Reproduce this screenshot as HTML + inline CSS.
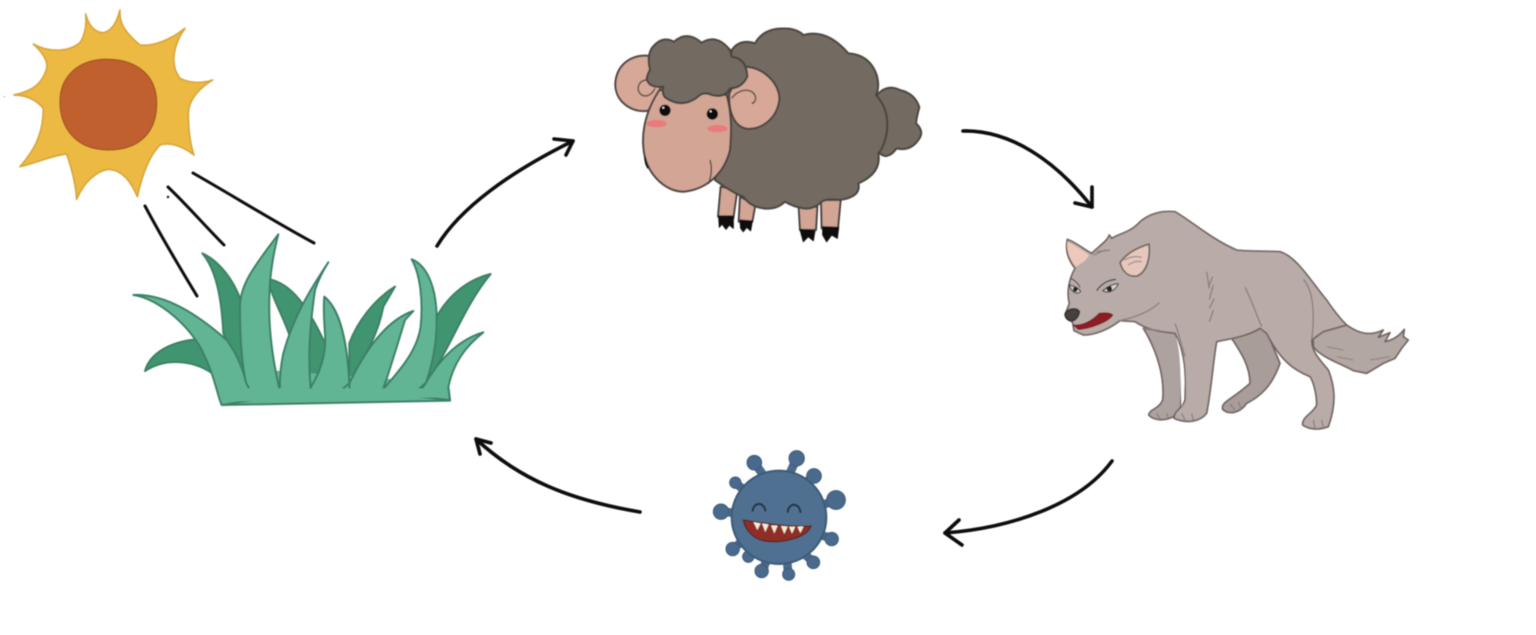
<!DOCTYPE html>
<html><head><meta charset="utf-8"><style>
html,body{margin:0;padding:0;background:#fff;width:1536px;height:635px;overflow:hidden}
svg{display:block}
</style></head><body>
<svg width="1536" height="635" viewBox="0 0 1536 635" xmlns="http://www.w3.org/2000/svg">
<defs><filter id="s" x="0" y="0" width="1536" height="635" filterUnits="userSpaceOnUse"><feGaussianBlur stdDeviation="0.55"/></filter></defs>
<rect width="1536" height="635" fill="#fff"/>
<g filter="url(#s)">

<!-- Sun (zoom coords) -->
<g transform="scale(.33333)">
<path d="M360,30 C358,60 365,90 420,135 C460,140 510,120 555,85 C525,125 505,190 540,235 C570,250 605,250 638,240 C600,262 565,300 565,340 C565,385 570,430 582,465 C550,440 510,425 480,435 C445,470 425,530 412,590 C395,550 370,510 325,508 C285,515 250,550 230,598 C228,560 220,520 200,462 C160,465 105,490 60,500 C95,460 130,410 130,325 C105,295 75,285 42,285 C85,275 125,260 140,205 C145,180 125,155 100,132 C140,155 200,160 240,128 C255,105 260,75 257,42 C265,75 285,100 312,98 C340,90 352,60 360,30 Z" fill="#ecb942" stroke="#d8a63e" stroke-width="5" stroke-linejoin="round"/>
<path d="M180,305 C180,230 235,178 320,178 C410,178 470,225 470,310 C470,395 420,450 325,450 C230,450 180,385 180,305 Z" fill="#bf612d" stroke="#a65526" stroke-width="4"/>
<path d="M10,290 h6" stroke="#999" stroke-width="2"/>
</g>

<!-- Rays -->
<g stroke="#111" stroke-width="3" stroke-linecap="round" fill="none">
<path d="M193,173 C235,197 275,222 314,243"/>
<path d="M168,187 C187,205 206,227 224,245"/>
<path d="M145,206 C161,236 180,268 197,296"/>
</g>
<circle cx="168" cy="197" r="1.2" fill="#111"/>

<!-- Grass (zoom coords) -->
<g transform="scale(.33333)" stroke="#3c8065" stroke-width="6" stroke-linejoin="round">
<path d="M435,1113 C450,1060 510,1025 590,1018 L650,1130 C590,1080 500,1070 435,1113 Z" fill="#419570"/>
<path d="M607,760 C660,785 700,840 722,900 L735,1130 L670,1000 C665,900 650,810 607,760 Z" fill="#419570"/>
<path d="M810,838 C860,850 910,890 975,1030 L980,1080 L930,1165 L925,1060 L870,1010 C850,950 820,900 810,860 Z" fill="#419570"/>
<path d="M1185,860 C1120,900 1070,970 1048,1030 L1048,1150 C1100,1060 1135,1000 1150,920 Z" fill="#419570"/>
<path d="M1472,822 C1400,840 1340,890 1305,960 L1278,1148 C1350,1050 1390,920 1472,822 Z" fill="#419570"/>

<path d="M665,1215 L1350,1200 L1345,1150 L665,1100 Z" fill="#62b594" stroke="none"/>
<path d="M400,885 C500,880 600,950 680,1020 C710,1060 730,1110 738,1148 L840,1175 L760,1200 L665,1215 C650,1180 645,1130 610,1060 C580,990 480,895 400,885 Z" fill="#62b594"/>
<path d="M835,703 C770,790 720,850 720,920 C720,1000 725,1090 738,1148 L760,1190 L840,1175 C820,1090 805,1000 808,900 C808,830 820,760 835,703 Z" fill="#62b594"/>
<path d="M985,787 C930,870 880,950 850,1060 C842,1100 838,1140 840,1175 L900,1190 L932,1165 C925,1090 925,1010 945,870 C955,840 970,810 985,787 Z" fill="#62b594"/>
<path d="M973,890 C1010,920 1040,990 1048,1150 L1000,1190 L930,1165 C960,1120 980,1060 975,1000 C972,960 970,920 973,890 Z" fill="#62b594"/>
<path d="M1240,933 C1190,950 1120,1000 1048,1150 L1050,1190 L1148,1170 C1170,1110 1190,1040 1215,960 Z" fill="#62b594"/>
<path d="M1235,778 C1280,795 1310,860 1310,960 C1310,1040 1295,1100 1278,1148 L1230,1190 L1148,1170 C1190,1120 1250,1060 1262,980 C1270,900 1260,820 1235,778 Z" fill="#62b594"/>
<path d="M1450,997 C1390,1015 1330,1060 1278,1148 L1250,1190 L1350,1200 L1345,1160 C1360,1090 1395,1040 1450,997 Z" fill="#62b594"/>
<path d="M665,1215 L1350,1202 L1345,1160" fill="none"/>
<path d="M690,1205 L1335,1192 L1340,1165 L700,1165 Z" fill="#62b594" stroke="none"/>
</g>

<!-- Sheep (zoom coords) -->
<g transform="translate(600,20) scale(.33333)" stroke="#49443f" stroke-width="6" stroke-linejoin="round">
<g fill="#d2a595">
<path d="M362,500 L354,590 L400,595 L412,510 Z"/>
<path d="M420,530 L416,605 L457,605 L466,555 Z"/>
<path d="M596,560 L600,630 L648,630 L652,560 Z"/>
<path d="M663,540 L665,625 L714,625 L722,540 Z"/>
</g>
<g fill="#111" stroke="#111" stroke-width="3">
<path d="M356,588 L400,588 L400,625 L388,615 L378,628 L366,612 L358,622 Z"/>
<path d="M420,600 L457,603 L452,632 L440,622 L430,635 L422,625 Z"/>
<path d="M600,628 L645,632 L640,662 L625,650 L610,665 Z"/>
<path d="M668,620 L716,622 L712,655 L695,645 L680,665 L668,645 Z"/>
</g>
<path d="M828,228 Q860,190 900,210 Q945,220 958,262 Q950,290 948,310 Q975,335 955,360 Q930,395 890,385 Q860,425 835,395 Q860,300 828,228 Z" fill="#736b62"/>
<path d="M395,90 Q420,55 465,70 Q490,25 550,25 Q590,25 610,45 Q680,25 745,100 Q810,105 830,165 Q840,200 828,225 Q870,270 860,340 Q850,385 835,400 Q845,460 775,490 Q785,530 720,540 Q680,535 665,545 Q640,570 610,565 Q580,560 555,545 Q530,570 490,565 Q450,560 430,530 Q400,520 345,480 L395,90 Z" fill="#736b62"/>
<path d="M150,108 C100,100 50,130 46,190 C44,240 90,280 145,272 L190,190 Z" fill="#d7a797"/>
<path d="M140,180 C115,180 105,210 125,225 C140,232 155,225 165,205" fill="none" stroke-width="4"/>
<path d="M430,140 C490,140 540,190 538,240 C530,300 480,330 440,326 C400,320 385,270 388,220 Z" fill="#d7a797"/>
<path d="M178,210 C145,260 125,320 130,380 C135,460 195,515 250,515 C310,510 370,470 390,390 C395,330 395,280 380,225 Z" fill="#d2a595"/>
<path d="M135,410 Q135,430 145,445" stroke="#111" fill="none" stroke-width="5"/>
<path d="M330,420 Q340,455 325,492" fill="none" stroke-width="4"/>
<path d="M395,235 C420,200 465,205 467,235 C466,245 460,250 455,250" fill="none" stroke-width="4"/>
<path d="M155,85 Q185,45 222,65 Q260,30 305,68 Q350,40 390,90 L395,110 Q440,115 442,170 Q425,205 390,205 Q375,235 335,225 Q315,215 300,225 Q250,270 195,232 Q185,220 190,200 Q145,205 140,175 Q145,155 150,150 Q140,110 155,85 Z" fill="#736b62"/>
<circle cx="195" cy="271" r="17" fill="#0a0a0a" stroke="none"/>
<circle cx="337" cy="282" r="17" fill="#0a0a0a" stroke="none"/>
<circle cx="190" cy="263" r="3" fill="#fff" stroke="none"/>
<circle cx="332" cy="274" r="3" fill="#fff" stroke="none"/>
<ellipse cx="170" cy="311" rx="30" ry="11" fill="#ea7a7c" stroke="none"/>
<ellipse cx="352" cy="326" rx="30" ry="11" fill="#ea7a7c" stroke="none"/>
</g>

<!-- Wolf (zoom coords) -->
<g transform="translate(1050,200) scale(.33333)" stroke="#6e6460" stroke-width="5" stroke-linejoin="round">
<path d="M545,415 L640,370 L690,490 C665,560 630,590 590,610 C570,640 535,645 518,628 C512,605 545,600 600,550 C600,500 575,460 545,415 Z" fill="#a99d9a"/>
<path d="M280,385 L390,400 C395,480 395,560 392,625 L370,650 C340,665 310,660 296,645 C300,625 325,630 338,600 C345,530 320,450 280,385 Z" fill="#aea2a0"/>
<path d="M790,395 L890,375 C925,400 960,410 1000,390 L985,412 L1020,398 L1005,425 C1030,420 1050,405 1063,388 L1060,410 L1075,420 L1055,445 L1035,475 L1000,490 L950,520 L910,512 C870,490 810,470 790,440 Z" fill="#b3a7a3"/>
<path d="M830,440 L880,450 M860,470 L910,480 M960,480 L1020,470" stroke="#8d827e" stroke-width="3" fill="none"/>
<path d="M52,118 C75,125 105,150 125,160 C145,140 170,125 178,105 L185,115 C210,100 245,95 270,65 C300,40 340,30 375,35 C420,60 480,115 560,150 C600,155 650,152 690,155 C740,170 780,240 830,300 C860,345 880,365 890,375 L820,395 L785,420 C785,450 800,470 835,510 C855,560 860,610 835,680 C810,690 780,690 758,675 C755,650 790,640 800,615 C800,580 790,545 780,530 C730,510 690,480 650,400 L630,385 C590,410 545,415 500,425 C490,480 485,560 470,640 C450,665 410,672 372,655 C372,630 395,630 405,600 C405,530 410,470 375,400 C340,395 300,395 255,365 L210,362 C180,385 140,405 100,405 L72,392 L68,368 L45,345 L58,310 C50,280 55,240 75,205 C55,180 45,150 52,118 Z" fill="#b9aca8"/>
<path d="M52,125 C75,135 105,155 118,165 C110,180 95,190 78,200 C60,180 48,150 52,125 Z" fill="#ecc9ba" stroke="none"/>
<path d="M297,132 C255,145 225,165 210,188 C218,215 235,232 262,228 C290,215 302,175 297,132 Z" fill="#e6c7bb"/>
<path d="M222,180 C240,170 260,168 275,172 M235,195 C248,185 262,182 275,185" stroke="#8a7e7a" stroke-width="3" fill="none"/>
<path d="M58,255 C72,258 88,265 92,275 C80,285 68,275 62,265 Z" fill="#d9d3cd" stroke="#333" stroke-width="3"/>
<circle cx="76" cy="268" r="7" fill="#222" stroke="none"/>
<path d="M158,272 C175,258 195,250 205,252 C195,272 175,282 158,272 Z" fill="#d9d3cd" stroke="#333" stroke-width="3"/>
<circle cx="178" cy="266" r="8" fill="#222" stroke="none"/>
<path d="M140,272 C155,250 175,240 198,238" fill="none" stroke="#444" stroke-width="4"/>
<path d="M62,235 C75,240 88,255 90,262" fill="none" stroke="#444" stroke-width="3"/>
<path d="M46,340 C55,325 80,322 88,335 C85,355 70,365 60,362 C50,358 45,350 46,340 Z" fill="#47403f" stroke="#333"/>
<path d="M70,375 C95,378 125,365 148,340 C165,338 180,338 188,345 C175,365 125,385 85,388 Z" fill="#8f1f22" stroke="#71181b" stroke-width="3"/>
<g fill="none" stroke="#8b807c" stroke-width="4">
<path d="M470,215 L478,265 M488,230 L475,262 M490,255 L478,298 M493,295 L478,325 M490,330 L478,365"/>
<path d="M585,262 C600,290 610,320 635,380"/>
<path d="M760,238 C790,270 795,340 785,420"/>
<path d="M210,362 C260,350 300,335 328,308"/>
<path d="M375,370 C385,395 390,420 405,470"/>
<path d="M280,385 L330,392"/>
<path d="M130,165 L165,150 M140,155 L180,150"/>
<path d="M320,640 L330,655 M350,640 L355,655 M395,640 L405,660 M425,640 L430,662"/>
<path d="M540,612 L555,630 M565,605 L575,630"/>
<path d="M790,660 L795,685 M815,660 L820,685"/>
</g>
<path d="M378,410 C405,470 410,560 395,620 C390,540 395,470 378,410 Z" fill="#fff" stroke="none"/>
</g>

<!-- Virus (zoom coords) -->
<g transform="translate(700,440) scale(.33333)">
<g stroke="#4a6b8c" stroke-width="26" fill="none" stroke-linecap="round">
<path d="M165,70 L200,120 M290,55 L265,110 M340,110 L300,140 M405,180 L345,205 M395,295 L345,280 M340,365 L310,340 M265,405 L260,350 M185,395 L210,340 M145,350 L170,320 M100,325 L140,295 M65,215 L120,220 M108,130 L150,165"/>
</g>
<g fill="#4a6b8c" stroke="#3c5a78" stroke-width="3">
<circle cx="163" cy="68" r="22"/><circle cx="290" cy="55" r="23"/><circle cx="342" cy="108" r="22"/><circle cx="408" cy="180" r="28"/><circle cx="395" cy="297" r="20"/><circle cx="340" cy="367" r="19"/><circle cx="266" cy="403" r="18"/><circle cx="185" cy="393" r="20"/><circle cx="145" cy="350" r="17"/><circle cx="98" cy="327" r="20"/><circle cx="63" cy="215" r="23"/><circle cx="106" cy="128" r="17"/>
</g>
<ellipse cx="237" cy="232" rx="142" ry="140" fill="#4f7090" stroke="#3c5a78" stroke-width="6"/>
<path d="M130,240 C190,250 280,262 333,258 C320,295 240,312 190,302 C160,296 135,270 130,240 Z" fill="#8f2f25" stroke="#5e2320" stroke-width="4"/>
<g fill="#f4ecd8">
<path d="M160,246 L182,250 L172,270 Z"/><path d="M186,250 L206,253 L196,276 Z"/><path d="M213,256 L233,257 L223,280 Z"/><path d="M243,258 L263,259 L253,282 Z"/><path d="M267,260 L286,260 L276,281 Z"/><path d="M292,260 L311,259 L301,279 Z"/>
</g>
<g fill="none" stroke="#22303f" stroke-width="6" stroke-linecap="round">
<path d="M158,212 C162,185 192,185 196,212"/>
<path d="M263,216 C266,187 298,187 301,216"/>
</g>
</g>

<!-- Cycle arrows -->
<g stroke="#0a0a0a" stroke-width="3.6" fill="none" stroke-linecap="round" stroke-linejoin="round">
<path d="M437,246 C460,208 510,172 573,141"/>
<path d="M554,139 L573,141 L566,155"/>
<path d="M963,131 C1010,130 1055,160 1092,207"/>
<path d="M1092,187 L1092,207 L1075,203"/>
<path d="M1112,461 C1080,505 1010,528 945,533"/>
<path d="M959,520 L945,533 L962,545"/>
<path d="M640,512 C570,500 520,480 476,439"/>
<path d="M491,443 L476,439 L480,454"/>
</g>
</g>
</svg>
</body></html>
